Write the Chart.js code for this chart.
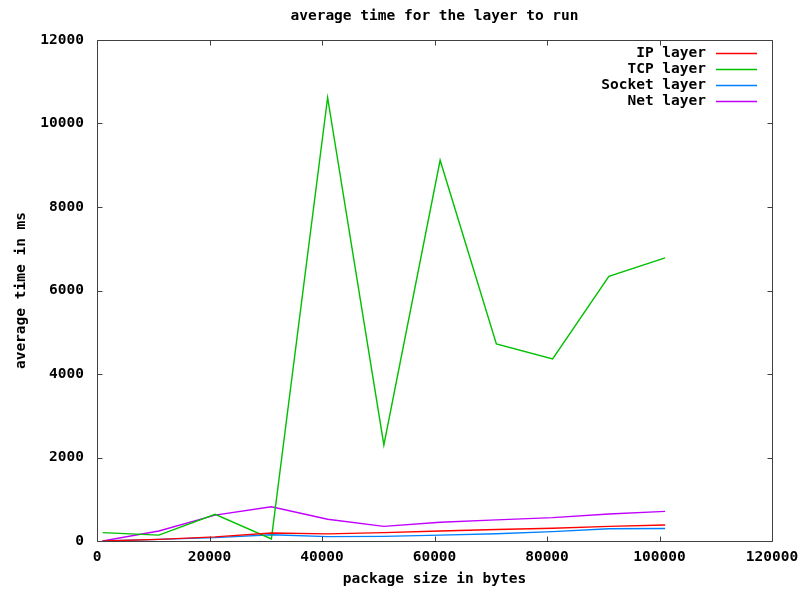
<!DOCTYPE html>
<html>
<head>
<meta charset="utf-8">
<script src="https://cdn.jsdelivr.net/npm/chart.js@4"></script>
<style>
html,body{margin:0;padding:0;background:#fff;}
#wrap{width:803px;height:593px;}
</style>
</head>
<body>
<div id="wrap"><canvas id="c" width="803" height="593"></canvas></div>
<script>
const chartTitle = "average time for the layer to run";
const xTitle = "package size in bytes";
const yTitle = "average time in ms";
const packageSizes = [1000, 11000, 21000, 31000, 41000, 51000, 61000, 71000, 81000, 91000, 101000];
const ipLayer     = [0, 40, 100, 190, 170, 200, 240, 275, 305, 350, 385];
const tcpLayer    = [200, 140, 640, 50, 10620, 2300, 9120, 4720, 4360, 6340, 6780];
const socketLayer = [0, 40, 80, 150, 105, 110, 140, 175, 225, 295, 300];
const netLayer    = [0, 240, 620, 820, 520, 350, 450, 505, 560, 645, 710];
const seriesNames = ["IP layer", "TCP layer", "Socket layer", "Net layer"];
const seriesColors = ["#ff0000", "#00c000", "#0080ff", "#c000ff"];
const xTicks = [0, 20000, 40000, 60000, 80000, 100000, 120000];
const yTicks = [0, 2000, 4000, 6000, 8000, 10000, 12000];

const FONT_SIZE = 14.5;
const FONT = "bold " + FONT_SIZE + "px 'DejaVu Sans Mono'";
const seriesValues = [ipLayer, tcpLayer, socketLayer, netLayer];
const datasets = seriesValues.map((vals, i) => ({
  label: seriesNames[i],
  data: packageSizes.map((x, j) => ({x: x, y: vals[j]})),
  borderColor: seriesColors[i],
  backgroundColor: seriesColors[i],
  borderWidth: 1.4,
  pointRadius: 0,
  tension: 0,
  fill: false
}));

const framePlugin = {
  id: 'frame',
  afterDraw(chart) {
    const ctx = chart.ctx;
    const a = chart.chartArea;
    const xs = chart.scales.x, ys = chart.scales.y;
    ctx.save();
    ctx.strokeStyle = '#404040';
    ctx.lineWidth = 1;
    const L = Math.round(a.left) + 0.5, R = Math.round(a.right) + 0.5;
    const T = Math.round(a.top) + 0.5, B = Math.round(a.bottom) + 0.5;
    ctx.beginPath();
    ctx.rect(L, T, R - L, B - T);
    ctx.stroke();
    const tl = 5;
    ctx.beginPath();
    xTicks.forEach(v => {
      const px = Math.round(xs.getPixelForValue(v)) + 0.5;
      ctx.moveTo(px, B); ctx.lineTo(px, B - tl);
      ctx.moveTo(px, T); ctx.lineTo(px, T + tl);
    });
    yTicks.forEach(v => {
      const py = Math.round(ys.getPixelForValue(v)) + 0.5;
      ctx.moveTo(L, py); ctx.lineTo(L + tl, py);
      ctx.moveTo(R, py); ctx.lineTo(R - tl, py);
    });
    ctx.stroke();
    // title
    ctx.fillStyle = '#000';
    ctx.font = FONT;
    ctx.textAlign = 'center';
    ctx.textBaseline = 'middle';
    ctx.fillText(chartTitle, (a.left + a.right) / 2, 16);
    // legend
    ctx.textAlign = 'right';
    seriesNames.forEach((name, i) => {
      const y = 53 + i * 16;
      ctx.fillStyle = '#000';
      ctx.fillText(name, a.right - 66, y);
      ctx.strokeStyle = seriesColors[i];
      ctx.lineWidth = 1.4;
      ctx.beginPath();
      ctx.moveTo(a.right - 56, Math.round(y) + 0.5);
      ctx.lineTo(a.right - 15, Math.round(y) + 0.5);
      ctx.stroke();
    });
    ctx.restore();
  }
};

const tickFont = { family: 'DejaVu Sans Mono', weight: 'bold', size: FONT_SIZE };

new Chart(document.getElementById('c'), {
  type: 'line',
  data: { datasets: datasets },
  options: {
    responsive: false,
    animation: false,
    devicePixelRatio: 1,
    layout: { padding: { top: 40, right: 31, left: 0, bottom: 0 } },
    plugins: { legend: { display: false }, title: { display: false }, tooltip: { enabled: false } },
    scales: {
      x: {
        type: 'linear', min: 0, max: 120000,
        afterFit(s) { s.height = 52; s.paddingLeft = 0; s.paddingRight = 0; },
        afterBuildTicks(s) { s.ticks = xTicks.map(v => ({value: v})); },
        grid: { display: false, drawTicks: false },
        border: { display: false },
        ticks: { color: '#000', padding: 8, maxRotation: 0, autoSkip: false,
                 font: tickFont, callback: v => String(v) },
        title: { display: true, text: xTitle, color: '#000', padding: { top: 0, bottom: 5 },
                 font: tickFont }
      },
      y: {
        type: 'linear', min: 0, max: 12000,
        afterFit(s) { s.width = 97; s.paddingTop = 0; s.paddingBottom = 0; },
        afterBuildTicks(s) { s.ticks = yTicks.map(v => ({value: v})); },
        grid: { display: false, drawTicks: false },
        border: { display: false },
        ticks: { color: '#000', padding: 13, autoSkip: false,
                 font: tickFont, callback: v => String(v) },
        title: { display: true, text: yTitle, color: '#000', padding: { top: 13, bottom: 0 },
                 font: tickFont }
      }
    }
  },
  plugins: [framePlugin]
});
</script>
</body>
</html>
